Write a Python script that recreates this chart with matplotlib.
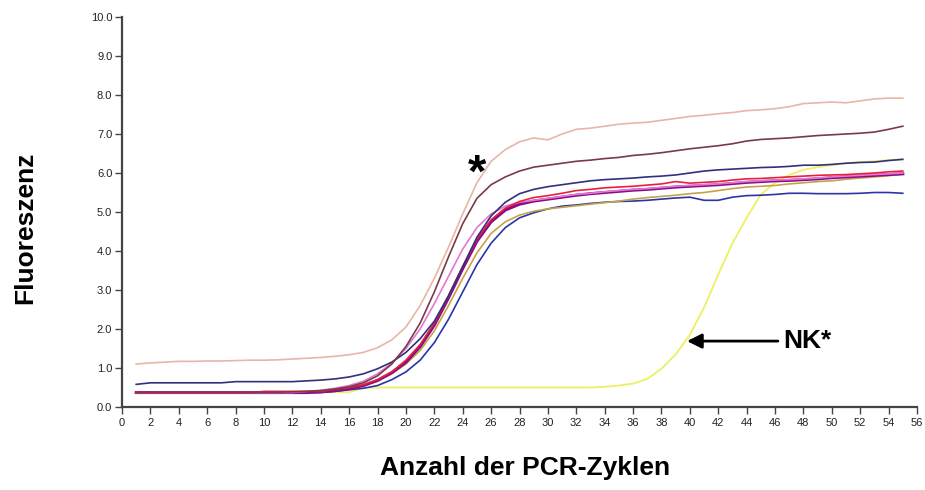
import matplotlib
matplotlib.use("Agg")
import matplotlib.pyplot as plt

plt.rcParams['font.family'] = ['Liberation Sans', 'DejaVu Sans']

cycles = list(range(1, 56))

yellow_nk = [0.38]*16 + [0.49] + [0.50]*16 + [
    0.52, 0.55, 0.60, 0.72, 0.98, 1.35, 1.85, 2.55, 3.40, 4.20, 4.85,
    5.45, 5.75, 5.95, 6.08, 6.15, 6.20, 6.25, 6.28, 6.30, 6.33, 6.35]

peach = [1.10, 1.13, 1.15, 1.17, 1.17, 1.18, 1.18, 1.19, 1.20, 1.20,
         1.21, 1.23, 1.25, 1.27, 1.30, 1.34, 1.40, 1.52, 1.72, 2.05,
         2.60, 3.30, 4.10, 4.95, 5.75, 6.30, 6.60, 6.80, 6.90, 6.85,
         7.00, 7.12, 7.15, 7.20, 7.25, 7.28, 7.30, 7.35, 7.40, 7.45,
         7.48, 7.52, 7.55, 7.60, 7.62, 7.65, 7.70, 7.78, 7.80, 7.82,
         7.80, 7.85, 7.90, 7.92, 7.92]

brown = [0.38]*11 + [0.39, 0.40, 0.42, 0.46, 0.52, 0.62, 0.80, 1.10, 1.55,
         2.15, 2.95, 3.85, 4.70, 5.35, 5.70, 5.90, 6.05, 6.15, 6.20,
         6.25, 6.30, 6.33, 6.37, 6.40, 6.45, 6.48, 6.52, 6.57, 6.62,
         6.66, 6.70, 6.75, 6.82, 6.86, 6.88, 6.90, 6.93, 6.96, 6.98,
         7.00, 7.02, 7.05, 7.12, 7.20]

navy = [0.58, 0.62, 0.62, 0.62, 0.62, 0.62, 0.62, 0.65, 0.65, 0.65,
        0.65, 0.65, 0.67, 0.69, 0.72, 0.77, 0.85, 0.98, 1.15, 1.40,
        1.75, 2.20, 2.85, 3.60, 4.35, 4.90, 5.25, 5.47, 5.58, 5.65,
        5.70, 5.75, 5.80, 5.83, 5.85, 5.87, 5.90, 5.92, 5.95, 6.00,
        6.05, 6.08, 6.10, 6.12, 6.14, 6.15, 6.17, 6.20, 6.20, 6.22,
        6.25, 6.27, 6.28, 6.32, 6.35]

purple = [0.37]*13 + [0.39, 0.42, 0.47, 0.55, 0.68, 0.88, 1.15,
          1.55, 2.10, 2.80, 3.55, 4.25, 4.75, 5.05, 5.20, 5.28, 5.33,
          5.38, 5.43, 5.47, 5.50, 5.53, 5.56, 5.58, 5.61, 5.64, 5.66,
          5.68, 5.70, 5.73, 5.76, 5.78, 5.80, 5.81, 5.83, 5.85, 5.88,
          5.90, 5.92, 5.94, 5.96, 5.98]

pink = [0.37]*12 + [0.40, 0.43, 0.48, 0.55, 0.66, 0.85, 1.12, 1.50,
        2.00, 2.65, 3.35, 4.05, 4.60, 4.95, 5.15, 5.25, 5.30, 5.35,
        5.40, 5.45, 5.48, 5.52, 5.55, 5.58, 5.60, 5.63, 5.66, 5.68,
        5.70, 5.72, 5.75, 5.78, 5.80, 5.82, 5.83, 5.85, 5.87, 5.90,
        5.92, 5.94, 5.96, 5.98, 6.00]

red = [0.37]*9 + [0.40]*5 + [0.45, 0.50, 0.57, 0.70, 0.90, 1.20,
       1.60, 2.15, 2.85, 3.60, 4.30, 4.80, 5.10, 5.27, 5.37, 5.42,
       5.48, 5.55, 5.58, 5.62, 5.64, 5.66, 5.69, 5.72, 5.78, 5.74,
       5.76, 5.78, 5.82, 5.85, 5.86, 5.88, 5.90, 5.92, 5.94, 5.95,
       5.96, 5.98, 6.00, 6.03, 6.05]

olive = [0.37]*13 + [0.40, 0.43, 0.48, 0.55, 0.67, 0.85, 1.10,
         1.45, 1.95, 2.60, 3.30, 3.95, 4.45, 4.75, 4.92, 5.02, 5.08,
         5.12, 5.16, 5.20, 5.24, 5.28, 5.33, 5.37, 5.40, 5.43, 5.47,
         5.50, 5.55, 5.60, 5.64, 5.66, 5.68, 5.72, 5.75, 5.78, 5.80,
         5.84, 5.87, 5.90, 5.93, 5.97]

blue = [0.37]*14 + [0.40, 0.44, 0.48, 0.55, 0.70, 0.90,
        1.20, 1.65, 2.25, 2.95, 3.65, 4.20, 4.60, 4.85, 4.98, 5.08,
        5.15, 5.18, 5.22, 5.25, 5.27, 5.28, 5.30, 5.33, 5.36, 5.38,
        5.30, 5.30, 5.38, 5.42, 5.43, 5.45, 5.48, 5.48, 5.47, 5.47,
        5.47, 5.48, 5.50, 5.50, 5.48]

series = [
    (yellow_nk, '#EDF060', 1.3),
    (peach, '#E8B6A6', 1.2),
    (blue, '#2A36A6', 1.2),
    (olive, '#C4A448', 1.2),
    (purple, '#8A0A8A', 2.2),
    (pink, '#E27AD2', 1.2),
    (red, '#E8203C', 1.2),
    (navy, '#30307E', 1.2),
    (brown, '#7A3A48', 1.2),
]

x_ticks = list(range(0, 57, 2))
y_ticks = [0, 1, 2, 3, 4, 5, 6, 7, 8, 9, 10]

fig = plt.figure(figsize=(9.25, 4.9), dpi=100)
ax = fig.add_axes([122/925, 1-407/490, (917-122)/925, (407-17)/490])

for vals, col, lw in series:
    ax.plot(cycles, vals, color=col, lw=lw, solid_joinstyle='round')

ax.set_xlim(0, 56)
ax.set_ylim(0, 10)
ax.set_xticks(x_ticks)
ax.set_yticks(y_ticks)
ax.set_yticklabels([f"{v:.1f}" for v in y_ticks])
for s in ['top', 'right']:
    ax.spines[s].set_visible(False)
for s in ['left', 'bottom']:
    ax.spines[s].set_color('#444444')
    ax.spines[s].set_linewidth(1.6)
ax.tick_params(axis='both', direction='out', length=5, width=1, color='#444444',
               labelsize=8, labelcolor='#222222')
ax.tick_params(axis='x', pad=3)
ax.tick_params(axis='y', pad=2)

ax.text(25.0, 5.95, '*', fontsize=34, fontweight='bold', ha='center', va='center')
ax.annotate('', xy=(39.8, 1.69), xytext=(46.2, 1.69),
            arrowprops=dict(arrowstyle='-|>', color='black', lw=2,
                            mutation_scale=22, shrinkA=0, shrinkB=0))
ax.text(46.6, 1.69, 'NK*', fontsize=19, fontweight='bold', ha='left', va='center')

fig.text(525/925, 1-468/490, 'Anzahl der PCR-Zyklen', fontsize=19,
         fontweight='bold', ha='center', va='center')
fig.text(25/925, 1-228/490, 'Fluoreszenz', fontsize=19, fontweight='bold',
         ha='center', va='center', rotation=90)

fig.savefig('out.png', dpi=100, facecolor='white')
